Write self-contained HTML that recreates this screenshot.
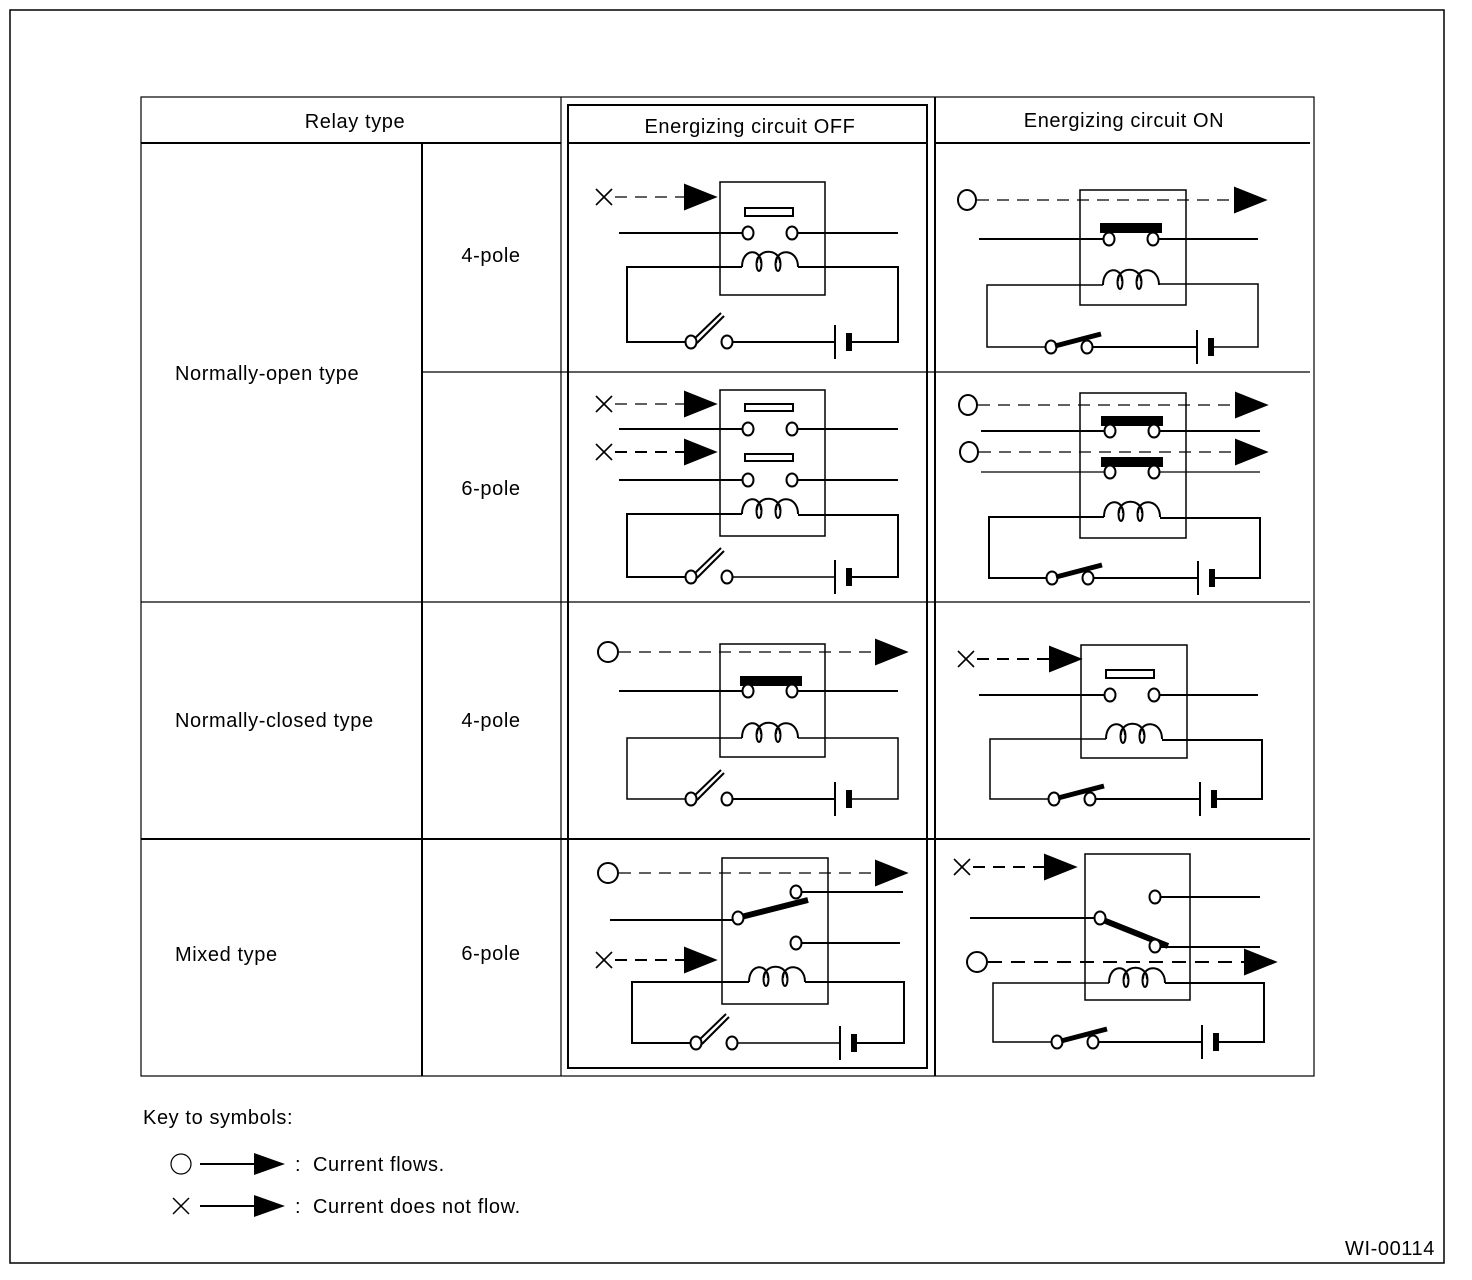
<!DOCTYPE html>
<html><head><meta charset="utf-8"><style>
html,body{margin:0;padding:0;background:#fff;}
svg{display:block;}
text{font-family:"Liberation Sans",sans-serif;font-size:20px;fill:#000;letter-spacing:0.6px;}
</style></head><body>
<svg width="1472" height="1280" viewBox="0 0 1472 1280" xmlns="http://www.w3.org/2000/svg">
<defs>
<g id="coil" fill="none" stroke="#000" stroke-width="2">
<path d="M0,0 C0,-19 19,-19 19,-4 M15,-4 C15,-19 38,-19 38,-4 M34,-4 C34,-19 56,-19 56,0"/>
<ellipse cx="17" cy="-3" rx="2.5" ry="7"/><ellipse cx="36" cy="-3" rx="2.5" ry="7"/>
</g>
<g id="swoff" fill="#fff" stroke="#000" stroke-width="2">
<line x1="2" y1="-2" x2="30" y2="-29"/><line x1="6" y1="1" x2="33" y2="-26"/>
<ellipse cx="0" cy="0" rx="5.5" ry="6.5"/><ellipse cx="36" cy="0" rx="5.5" ry="6.5"/>
</g>
<g id="swon" fill="#fff" stroke="#000" stroke-width="2">
<ellipse cx="0" cy="0" rx="5.5" ry="6.5"/><ellipse cx="36" cy="0" rx="5.5" ry="6.5"/>
<line x1="4" y1="-1" x2="50" y2="-13" stroke-width="5"/>
</g>
<g id="bat"><line x1="0" y1="-17" x2="0" y2="17" stroke="#000" stroke-width="2"/><rect x="12" y="-8" width="4" height="16" fill="#000"/></g>
<g id="xm" stroke="#000" stroke-width="1.6"><line x1="-8" y1="-8" x2="8" y2="8"/><line x1="-8" y1="8" x2="8" y2="-8"/></g>
<polygon id="arr" points="0,-12 30,0 0,12" fill="#000"/>
<g id="ct" fill="#fff" stroke="#000" stroke-width="2"><ellipse cx="0" cy="0" rx="5.5" ry="6.5"/></g>
</defs>

<rect x="10" y="10" width="1434" height="1253" fill="none" stroke="#000" stroke-width="1.5"/>

<g stroke="#000" fill="none">
<rect x="141" y="97" width="1173" height="979" stroke-width="1.2"/>
<line x1="141" y1="143" x2="561" y2="143" stroke-width="2"/>
<line x1="935" y1="143" x2="1310" y2="143" stroke-width="2"/>
<line x1="422" y1="143" x2="422" y2="1076" stroke-width="2"/>
<line x1="561" y1="97" x2="561" y2="1076" stroke-width="1.2"/>
<rect x="568" y="105" width="359" height="963" stroke-width="2"/>
<line x1="568" y1="143" x2="927" y2="143" stroke-width="2"/>
<line x1="935" y1="97" x2="935" y2="1076" stroke-width="2"/>
<line x1="422" y1="372" x2="1310" y2="372" stroke-width="1.2"/>
<line x1="141" y1="602" x2="1310" y2="602" stroke-width="1.2"/>
<line x1="141" y1="839" x2="1310" y2="839" stroke-width="2"/>
</g>

<text x="355" y="128" text-anchor="middle">Relay type</text>
<text x="750" y="133" text-anchor="middle">Energizing circuit OFF</text>
<text x="1124" y="127" text-anchor="middle">Energizing circuit ON</text>
<text x="491" y="262" text-anchor="middle">4-pole</text>
<text x="175" y="380">Normally-open type</text>
<text x="491" y="495" text-anchor="middle">6-pole</text>
<text x="175" y="727">Normally-closed type</text>
<text x="491" y="727" text-anchor="middle">4-pole</text>
<text x="175" y="961">Mixed type</text>
<text x="491" y="960" text-anchor="middle">6-pole</text>

<g stroke="#000" fill="none" stroke-width="2">
<!-- ROW1 OFF -->
<rect x="720" y="182" width="105" height="113" stroke-width="1.5"/>
<use href="#xm" x="604" y="197"/>
<line x1="615" y1="197" x2="685" y2="197" stroke-width="1.2" stroke-dasharray="12 8"/>
<use href="#arr" x="685" y="197"/>
<rect x="745" y="208" width="48" height="8"/>
<line x1="619" y1="233" x2="742" y2="233"/><line x1="798" y1="233" x2="898" y2="233"/>
<use href="#ct" x="748" y="233"/><use href="#ct" x="792" y="233"/>
<polyline points="742,267 627,267 627,342 686,342"/>
<use href="#coil" x="742" y="267"/>
<polyline points="798,267 898,267 898,342 851,342"/>
<line x1="733" y1="342" x2="835" y2="342"/>
<use href="#swoff" x="691" y="342"/><use href="#bat" x="835" y="342"/>

<!-- ROW1 ON -->
<rect x="1080" y="190" width="106" height="115" stroke-width="1.5"/>
<ellipse cx="967" cy="200" rx="9" ry="10"/>
<line x1="977" y1="200" x2="1233" y2="200" stroke-width="1.2" stroke-dasharray="12 8"/>
<use href="#arr" x="1235" y="200"/>
<rect x="1101" y="224" width="60" height="8" fill="#000"/>
<line x1="979" y1="239" x2="1104" y2="239"/><line x1="1159" y1="239" x2="1258" y2="239"/>
<use href="#ct" x="1109" y="239"/><use href="#ct" x="1153" y="239"/>
<polyline points="1103,285 987,285 987,347 1046,347" stroke-width="1.5"/>
<use href="#coil" x="1103" y="285"/>
<polyline points="1159,284 1258,284 1258,347 1214,347" stroke-width="1.5"/>
<line x1="1093" y1="347" x2="1197" y2="347"/>
<use href="#swon" x="1051" y="347"/><use href="#bat" x="1197" y="347"/>

<!-- ROW2 OFF -->
<rect x="720" y="390" width="105" height="146" stroke-width="1.5"/>
<use href="#xm" x="604" y="404"/>
<line x1="615" y1="404" x2="685" y2="404" stroke-width="1.2" stroke-dasharray="12 8"/>
<use href="#arr" x="685" y="404"/>
<rect x="745" y="404" width="48" height="7"/>
<line x1="619" y1="429" x2="742" y2="429"/><line x1="798" y1="429" x2="898" y2="429"/>
<use href="#ct" x="748" y="429"/><use href="#ct" x="792" y="429"/>
<use href="#xm" x="604" y="452"/>
<line x1="615" y1="452" x2="685" y2="452" stroke-width="2" stroke-dasharray="12 8"/>
<use href="#arr" x="685" y="452"/>
<rect x="745" y="454" width="48" height="7"/>
<line x1="619" y1="480" x2="742" y2="480"/><line x1="798" y1="480" x2="898" y2="480"/>
<use href="#ct" x="748" y="480"/><use href="#ct" x="792" y="480"/>
<polyline points="742,514 627,514 627,577 686,577"/>
<use href="#coil" x="742" y="514"/>
<polyline points="798,515 898,515 898,577 851,577"/>
<line x1="733" y1="577" x2="835" y2="577" stroke-width="1.5"/>
<use href="#swoff" x="691" y="577"/><use href="#bat" x="835" y="577"/>

<!-- ROW2 ON -->
<rect x="1080" y="393" width="106" height="145" stroke-width="1.5"/>
<ellipse cx="968" cy="405" rx="9" ry="10"/>
<line x1="978" y1="405" x2="1235" y2="405" stroke-width="1.2" stroke-dasharray="12 8"/>
<use href="#arr" x="1236" y="405"/>
<rect x="1102" y="417" width="60" height="8" fill="#000"/>
<line x1="981" y1="431" x2="1105" y2="431"/><line x1="1160" y1="431" x2="1260" y2="431"/>
<use href="#ct" x="1110" y="431"/><use href="#ct" x="1154" y="431"/>
<ellipse cx="969" cy="452" rx="9" ry="10"/>
<line x1="979" y1="452" x2="1235" y2="452" stroke-width="1.2" stroke-dasharray="12 8"/>
<use href="#arr" x="1236" y="452"/>
<rect x="1102" y="458" width="60" height="8" fill="#000"/>
<line x1="981" y1="472" x2="1105" y2="472" stroke-width="1.2"/><line x1="1160" y1="472" x2="1260" y2="472" stroke-width="1.2"/>
<use href="#ct" x="1110" y="472"/><use href="#ct" x="1154" y="472"/>
<polyline points="1104,517 989,517 989,578 1047,578"/>
<use href="#coil" x="1104" y="517"/>
<polyline points="1160,518 1260,518 1260,578 1215,578"/>
<line x1="1094" y1="578" x2="1198" y2="578"/>
<use href="#swon" x="1052" y="578"/><use href="#bat" x="1198" y="578"/>

<!-- ROW3 OFF -->
<rect x="720" y="644" width="105" height="113" stroke-width="1.5"/>
<ellipse cx="608" cy="652" rx="10" ry="10"/>
<line x1="619" y1="652" x2="876" y2="652" stroke-width="1.2" stroke-dasharray="12 8"/>
<use href="#arr" x="876" y="652"/>
<rect x="741" y="677" width="60" height="8" fill="#000"/>
<line x1="619" y1="691" x2="742" y2="691"/><line x1="798" y1="691" x2="898" y2="691"/>
<use href="#ct" x="748" y="691"/><use href="#ct" x="792" y="691"/>
<polyline points="742,738 627,738 627,799 686,799" stroke-width="1.5"/>
<use href="#coil" x="742" y="738"/>
<polyline points="798,738 898,738 898,799 851,799" stroke-width="1.5"/>
<line x1="733" y1="799" x2="835" y2="799"/>
<use href="#swoff" x="691" y="799"/><use href="#bat" x="835" y="799"/>

<!-- ROW3 ON -->
<rect x="1081" y="645" width="106" height="113" stroke-width="1.5"/>
<use href="#xm" x="966" y="659"/>
<line x1="977" y1="659" x2="1050" y2="659" stroke-width="2" stroke-dasharray="12 8"/>
<use href="#arr" x="1050" y="659"/>
<rect x="1106" y="670" width="48" height="8"/>
<line x1="979" y1="695" x2="1105" y2="695"/><line x1="1160" y1="695" x2="1258" y2="695"/>
<use href="#ct" x="1110" y="695"/><use href="#ct" x="1154" y="695"/>
<polyline points="1106,739 990,739 990,799 1049,799" stroke-width="1.5"/>
<use href="#coil" x="1106" y="739"/>
<polyline points="1162,740 1262,740 1262,799 1217,799"/>
<line x1="1096" y1="799" x2="1200" y2="799"/>
<use href="#swon" x="1054" y="799"/><use href="#bat" x="1200" y="799"/>

<!-- ROW4 OFF -->
<rect x="722" y="858" width="106" height="146" stroke-width="1.5"/>
<ellipse cx="608" cy="873" rx="10" ry="10"/>
<line x1="619" y1="873" x2="876" y2="873" stroke-width="1.2" stroke-dasharray="12 8"/>
<use href="#arr" x="876" y="873"/>
<line x1="801" y1="892" x2="903" y2="892"/>
<use href="#ct" x="796" y="892"/>
<line x1="610" y1="920" x2="734" y2="920"/>
<line x1="741" y1="917" x2="808" y2="900" stroke-width="6"/>
<use href="#ct" x="738" y="918"/>
<line x1="801" y1="943" x2="900" y2="943"/>
<use href="#ct" x="796" y="943"/>
<use href="#xm" x="604" y="960"/>
<line x1="615" y1="960" x2="685" y2="960" stroke-width="2" stroke-dasharray="12 8"/>
<use href="#arr" x="685" y="960"/>
<polyline points="749,982 632,982 632,1043 691,1043"/>
<use href="#coil" x="749" y="982"/>
<polyline points="805,982 904,982 904,1043 856,1043"/>
<line x1="738" y1="1043" x2="840" y2="1043" stroke-width="1.5"/>
<use href="#swoff" x="696" y="1043"/><use href="#bat" x="840" y="1043"/>

<!-- ROW4 ON -->
<rect x="1085" y="854" width="105" height="146" stroke-width="1.5"/>
<use href="#xm" x="962" y="867"/>
<line x1="973" y1="867" x2="1045" y2="867" stroke-width="2" stroke-dasharray="12 8"/>
<use href="#arr" x="1045" y="867"/>
<line x1="1160" y1="897" x2="1260" y2="897"/>
<use href="#ct" x="1155" y="897"/>
<line x1="970" y1="918" x2="1096" y2="918"/>
<line x1="1103" y1="920" x2="1168" y2="946" stroke-width="6"/>
<use href="#ct" x="1100" y="918"/>
<line x1="1160" y1="947" x2="1260" y2="947"/>
<use href="#ct" x="1155" y="946"/>
<ellipse cx="977" cy="962" rx="10" ry="10"/>
<line x1="988" y1="962" x2="1245" y2="962" stroke-width="2" stroke-dasharray="14 9"/>
<use href="#arr" x="1245" y="962"/>
<polyline points="1109,983 993,983 993,1042 1052,1042" stroke-width="1.5"/>
<use href="#coil" x="1109" y="983"/>
<polyline points="1165,983 1264,983 1264,1042 1219,1042"/>
<line x1="1099" y1="1042" x2="1202" y2="1042"/>
<use href="#swon" x="1057" y="1042"/><use href="#bat" x="1202" y="1042"/>
</g>

<text x="143" y="1124">Key to symbols:</text>
<circle cx="181" cy="1164" r="10" fill="none" stroke="#000" stroke-width="1.2"/>
<line x1="200" y1="1164" x2="256" y2="1164" stroke="#000" stroke-width="2"/>
<polygon points="254,1153 285,1164 254,1175" fill="#000"/>
<text x="295" y="1171">:</text>
<text x="313" y="1171">Current flows.</text>
<g stroke="#000" stroke-width="1.5"><line x1="173" y1="1198" x2="189" y2="1214"/><line x1="173" y1="1214" x2="189" y2="1198"/></g>
<line x1="200" y1="1206" x2="256" y2="1206" stroke="#000" stroke-width="2"/>
<polygon points="254,1195 285,1206 254,1217" fill="#000"/>
<text x="295" y="1213">:</text>
<text x="313" y="1213">Current does not flow.</text>
<text x="1435" y="1255" text-anchor="end">WI-00114</text>
</svg>
</body></html>
